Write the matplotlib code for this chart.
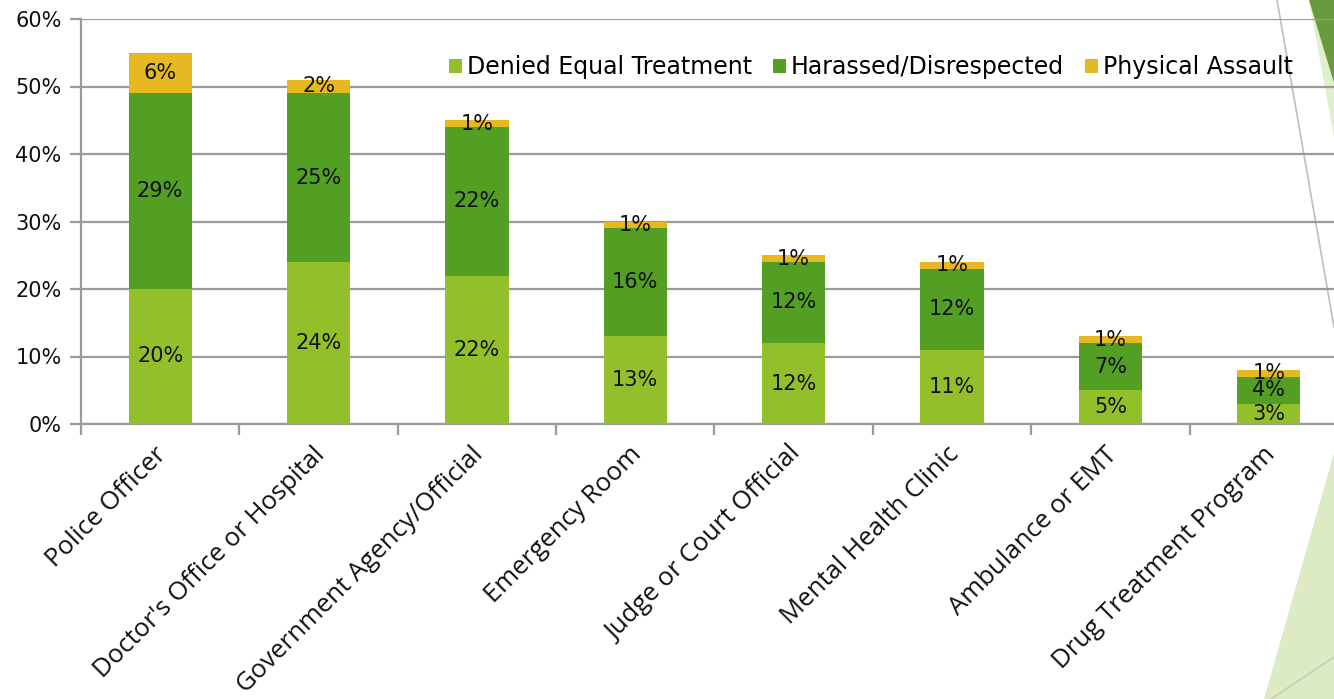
import matplotlib
matplotlib.use("Agg")
import matplotlib.pyplot as plt
from matplotlib.patches import Polygon
from matplotlib.lines import Line2D
from matplotlib.transforms import ScaledTranslation
import numpy as np

categories = [
    "Police Officer",
    "Doctor's Office or Hospital",
    "Government Agency/Official",
    "Emergency Room",
    "Judge or Court Official",
    "Mental Health Clinic",
    "Ambulance or EMT",
    "Drug Treatment Program",
]
denied = [20, 24, 22, 13, 12, 11, 5, 3]
harassed = [29, 25, 22, 16, 12, 12, 7, 4]
assault = [6, 2, 1, 1, 1, 1, 1, 1]

series_names = ["Denied Equal Treatment", "Harassed/Disrespected", "Physical Assault"]
colors = ["#93C02A", "#529F23", "#E6B821"]
y_ticks = [0, 10, 20, 30, 40, 50, 60]

W, H = 1334, 699
fig = plt.figure(figsize=(W / 100, H / 100), dpi=100)
fig.patch.set_facecolor("white")

def fx(px):
    return px / W

def fy(py):
    return 1 - py / H

# Decorative slide accents on the right edge
fig.add_artist(Polygon([(fx(1309), fy(0)), (fx(1334), fy(0)), (fx(1334), fy(137))],
                       closed=True, transform=fig.transFigure, facecolor="#E2EFCB",
                       edgecolor="none", zorder=0))
fig.add_artist(Polygon([(fx(1309), fy(0)), (fx(1334), fy(0)), (fx(1334), fy(83))],
                       closed=True, transform=fig.transFigure, facecolor="#6A9A40",
                       edgecolor="none", zorder=0))
fig.add_artist(Polygon([(fx(1334), fy(453)), (fx(1334), fy(699)), (fx(1264), fy(699))],
                       closed=True, transform=fig.transFigure, facecolor="#DDEBC4",
                       edgecolor="none", zorder=0))
fig.add_artist(Line2D([fx(1277), fx(1334)], [fy(0), fy(327)], transform=fig.transFigure,
                      color="#BEBEBE", lw=1.2, zorder=0))
fig.add_artist(Line2D([fx(1271), fx(1334)], [fy(699), fy(657)], transform=fig.transFigure,
                      color="#C4CDB8", lw=1.2, zorder=0))

ax_left, ax_right = 81, 1348
ax_top, ax_bottom = 19, 424
ax = fig.add_axes([fx(ax_left), fy(ax_bottom), (ax_right - ax_left) / W, (ax_bottom - ax_top) / H])
ax.patch.set_alpha(0)

x = np.arange(len(categories))
d = np.array(denied)
h = np.array(harassed)
a = np.array(assault)

bars = []
bottoms = [np.zeros(len(d)), d, d + h]
for vals, bot, col, name in zip([d, h, a], bottoms, colors, series_names):
    bc = ax.bar(x, vals, 0.4, bottom=bot, color=col, label=name, zorder=3)
    ax.bar_label(bc, labels=[f"{v}%" for v in vals], label_type="center",
                 fontsize=15, color="#111111", zorder=4)
    bars.append(bc)

ax.set_xlim(-0.5, 7.5)
ax.set_ylim(0, 60)
ax.set_yticks(y_ticks)
ax.set_yticklabels([f"{t}%" for t in y_ticks], fontsize=15, color="#111111")
ax.yaxis.grid(True, color="#9A9A9A", lw=1.6, zorder=1)
ax.set_axisbelow(True)

ax.set_xticks(x)
ax.set_xticklabels(categories, rotation=45, ha="right", rotation_mode="anchor",
                   fontsize=18.5, family="Open Sans", color="#111111")
ax.tick_params(axis="x", which="major", length=0, pad=13)
shift = ScaledTranslation(-6 / 100, 0, fig.dpi_scale_trans)
for lbl in ax.get_xticklabels():
    lbl.set_transform(lbl.get_transform() + shift)
ax.set_xticks(np.arange(-0.5, 8, 1), minor=True)
ax.tick_params(axis="x", which="minor", length=8, width=1.6, color="#9A9A9A")
ax.tick_params(axis="y", length=8, width=1.6, color="#9A9A9A", pad=6)

for s in ["top", "right"]:
    ax.spines[s].set_visible(False)
for s in ["left", "bottom"]:
    ax.spines[s].set_color("#9A9A9A")
    ax.spines[s].set_linewidth(1.6)

leg = fig.legend(handles=bars, labels=series_names, loc="center left",
                 bbox_to_anchor=(fx(428), fy(67)), ncol=3, frameon=False,
                 handlelength=0.55, handleheight=0.55, handletextpad=0.2,
                 columnspacing=0.9, prop={"size": 17})

fig.savefig("out.png", dpi=100, facecolor="white")
